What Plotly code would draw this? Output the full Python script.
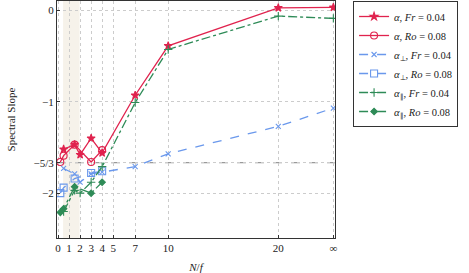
import plotly.graph_objects as go

INF = 25  # position of the infinity tick

x_fr = [0.5, 1.5, 2, 3, 4, 7, 10, 20, INF]
x_ro = [0.2, 0.5, 1.5, 3, 4]

alpha_fr = [-1.52, -1.47, -1.58, -1.40, -1.56, -0.93, -0.39, 0.025, 0.03]
alpha_ro = [-1.66, -1.59, -1.47, -1.66, -1.53]
perp_fr = [-1.73, -1.79, -1.88, -1.79, -1.77, -1.71, -1.57, -1.27, -1.07]
perp_ro = [-2.00, -1.94, -1.84, -1.78, -1.76]
par_fr = [-2.20, -1.97, -2.00, -1.88, -1.71, -1.01, -0.43, -0.065, -0.09]
par_ro = [-2.21, -2.17, -1.93, -2.00, -1.88]

x_ticks = [0, 1, 2, 3, 4, 5, 7, 10, 20, INF]
x_labels = ["0", "1", "2", "3", "4", "5", "7", "10", "20", "∞"]
y_ticks = [0, -1, -5/3, -2]
y_labels = ["0", "−1", "−5/3", "−2"]

RED = "#e0234e"
BLUE = "#6a98ec"
GREEN = "#2e8b57"
FONT = "Liberation Serif"

fig = go.Figure()

def add(x, y, name, color, dash, symbol, size):
    marker = dict(symbol=symbol, size=size, color=color,
                  line=dict(color=color, width=1.1))
    fig.add_trace(go.Scatter(x=x, y=y, name=name, mode="lines+markers",
                             line=dict(color=color, width=1.3, dash=dash),
                             marker=marker))

add(x_fr, alpha_fr, "<i>α</i>, <i>Fr</i> = 0.04", RED, "solid", "star", 6)
add(x_ro, alpha_ro, "<i>α</i>, <i>Ro</i> = 0.08", RED, "solid", "circle-open", 7)
add(x_fr, perp_fr, "<i>α</i><sub>⊥</sub>, <i>Fr</i> = 0.04", BLUE, "dash", "x-thin-open", 5)
add(x_ro, perp_ro, "<i>α</i><sub>⊥</sub>, <i>Ro</i> = 0.08", BLUE, "dash", "square-open", 7)
add(x_fr, par_fr, "<i>α</i><sub>∥</sub>, <i>Fr</i> = 0.04", GREEN, "dashdot", "cross-thin-open", 6)
add(x_ro, par_ro, "<i>α</i><sub>∥</sub>, <i>Ro</i> = 0.08", GREEN, "dashdot", "diamond", 5)

fig.add_shape(type="rect", xref="x", yref="paper", x0=0.45, x1=1.95, y0=0, y1=1,
              fillcolor="rgba(215,195,160,0.22)", line_width=0, layer="below")
fig.add_shape(type="line", xref="paper", yref="y", x0=0, x1=1, y0=-5/3, y1=-5/3,
              line=dict(color="#999999", width=1.1, dash="dash"), layer="below")

fig.update_layout(
    width=469, height=273,
    margin=dict(l=57, r=134, t=1, b=35, autoexpand=False),
    plot_bgcolor="white", paper_bgcolor="white",
    font=dict(family=FONT, size=11, color="#222"),
    showlegend=True,
    legend=dict(x=1.065, y=1, xanchor="left", yanchor="top",
                bordercolor="#333", borderwidth=1, font=dict(size=10.5, family=FONT),
                tracegroupgap=0, itemwidth=30),
)
fig.update_xaxes(range=[-0.1, 25.15], tickvals=x_ticks, ticktext=x_labels,
                 showgrid=True, gridcolor="#cccccc", griddash="dot", gridwidth=1,
                 showline=True, linecolor="#333", linewidth=1, mirror=True,
                 ticks="inside", ticklen=3, tickcolor="#333", zeroline=False,
                 automargin=False,
                 title=dict(text="<i>N</i>/<i>f</i>", font=dict(size=11)))
fig.update_yaxes(range=[-2.49, 0.1], tickvals=y_ticks, ticktext=y_labels,
                 showgrid=True, gridcolor="#cccccc", griddash="dot", gridwidth=1,
                 showline=True, linecolor="#333", linewidth=1, mirror=True,
                 ticks="inside", ticklen=3, tickcolor="#333", zeroline=False,
                 automargin=False,
                 title=dict(text="Spectral Slope", font=dict(size=11)))

fig.write_html("out.html", config={"displayModeBar": False},
               post_script="document.body.style.margin='0px';")
